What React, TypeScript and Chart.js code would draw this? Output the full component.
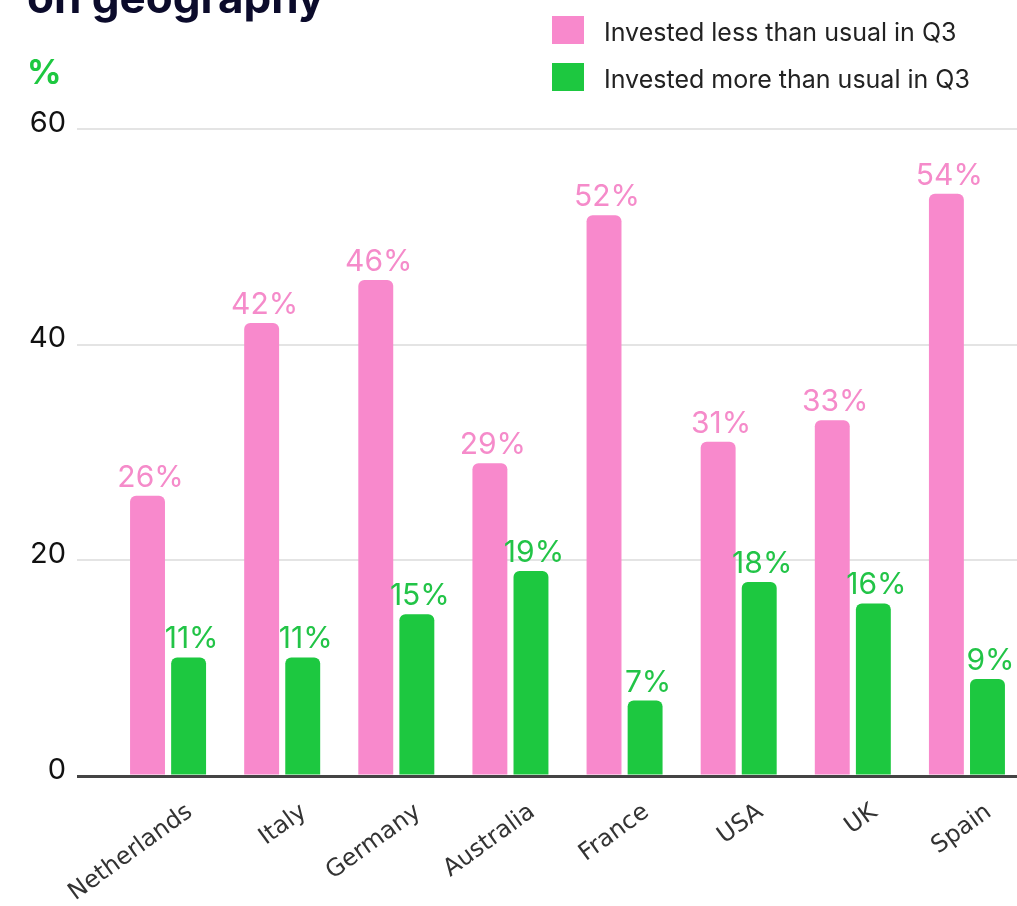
import React, { useEffect, useRef } from "react";
import { Chart, registerables } from "chart.js";

Chart.register(...registerables);

const categories = ["Netherlands", "Italy", "Germany", "Australia", "France", "USA", "UK", "Spain"];
const investedLess = [26, 42, 46, 29, 52, 31, 33, 54];
const investedMore = [11, 11, 15, 19, 7, 18, 16, 9];
const seriesNames = ["Invested less than usual in Q3", "Invested more than usual in Q3"];
const yTicks = [0, 20, 40, 60];
const titleText = "on geography";
const unitText = "%";

const PINK = "#F889CC";
const GREEN = "#1DC840";
const PINK_LABEL = "#F58BCA";
const GREEN_LABEL = "#22C447";

const decorPlugin = {
  id: "decor",
  afterDraw(chart: any) {
    const ctx = chart.ctx;
    ctx.save();
    // title (cropped at top)
    ctx.fillStyle = "#0B0B2B";
    ctx.font = "bold 44px Inter";
    ctx.textAlign = "left";
    ctx.textBaseline = "alphabetic";
    ctx.fillText(titleText, 27, 13);
    // unit
    ctx.fillStyle = GREEN;
    ctx.font = "bold 34px Inter";
    ctx.fillText(unitText, 27, 84);
    // legend
    const ds = chart.data.datasets;
    ds.forEach((d: any, i: number) => {
      const y = 16 + i * 47;
      ctx.fillStyle = d.backgroundColor;
      ctx.fillRect(552, y, 32, 28);
      ctx.fillStyle = "#222";
      ctx.font = "25px Inter";
      ctx.textBaseline = "middle";
      ctx.fillText(d.label, 604, y + 17);
    });
    ctx.restore();
  },
  afterDatasetsDraw(chart: any) {
    const ctx = chart.ctx;
    ctx.save();
    ctx.font = "30px Inter";
    ctx.textAlign = "center";
    ctx.textBaseline = "alphabetic";
    chart.data.datasets.forEach((d: any, i: number) => {
      const meta = chart.getDatasetMeta(i);
      ctx.fillStyle = i === 0 ? PINK_LABEL : GREEN_LABEL;
      meta.data.forEach((bar: any, j: number) => {
        ctx.fillText(d.data[j] + "%", bar.x + 3, bar.y - 9);
      });
    });
    ctx.restore();
  },
};

export default function App() {
  const ref = useRef<HTMLCanvasElement | null>(null);
  useEffect(() => {
    if (!ref.current) return;
    const chart = new Chart(ref.current, {
      type: "bar",
      data: {
        labels: categories,
        datasets: [
          {
            label: seriesNames[0],
            data: investedLess,
            backgroundColor: PINK,
            borderRadius: 6,
            borderSkipped: "start",
            categoryPercentage: 0.72,
            barPercentage: 0.85,
          },
          {
            label: seriesNames[1],
            data: investedMore,
            backgroundColor: GREEN,
            borderRadius: 6,
            borderSkipped: "start",
            categoryPercentage: 0.72,
            barPercentage: 0.85,
          },
        ],
      },
      options: {
        responsive: false,
        animation: false,
        layout: { padding: { top: 129, left: 0, right: 0, bottom: 0 } },
        plugins: {
          legend: { display: false },
          title: { display: false },
          tooltip: { enabled: false },
        },
        scales: {
          x: {
            grid: { display: false, drawTicks: false },
            border: { display: false },
            ticks: {
              autoSkip: false,
              maxRotation: 36,
              minRotation: 36,
              labelOffset: 22,
              padding: 22,
              color: "#333",
              font: { family: "DejaVu Sans", size: 24 },
            },
            afterFit: (s: any) => {
              s.height = 130;
            },
          },
          y: {
            min: 0,
            max: 60,
            afterBuildTicks: (s: any) => {
              s.ticks = yTicks.map((v) => ({ value: v }));
            },
            grid: {
              drawTicks: true,
              tickLength: 34,
              color: (c: any) => (c.tick && c.tick.value === 0 ? "#444" : "#E4E4E4"),
              lineWidth: (c: any) => (c.tick && c.tick.value === 0 ? 3 : 2),
            },
            border: { display: false },
            ticks: {
              padding: 11,
              labelOffset: -6,
              color: "#111",
              font: { family: "Inter", size: 29 },
            },
            afterFit: (s: any) => {
              s.width = 111;
            },
          },
        },
      },
      plugins: [decorPlugin],
    });
    return () => chart.destroy();
  }, []);
  return (
    <div style={{ position: "absolute", left: 0, top: 0, width: 1017, height: 906, overflow: "hidden", background: "#fff" }}>
      <canvas ref={ref} width={1024} height={906} style={{ width: 1024, height: 906, display: "block" }} />
    </div>
  );
}
